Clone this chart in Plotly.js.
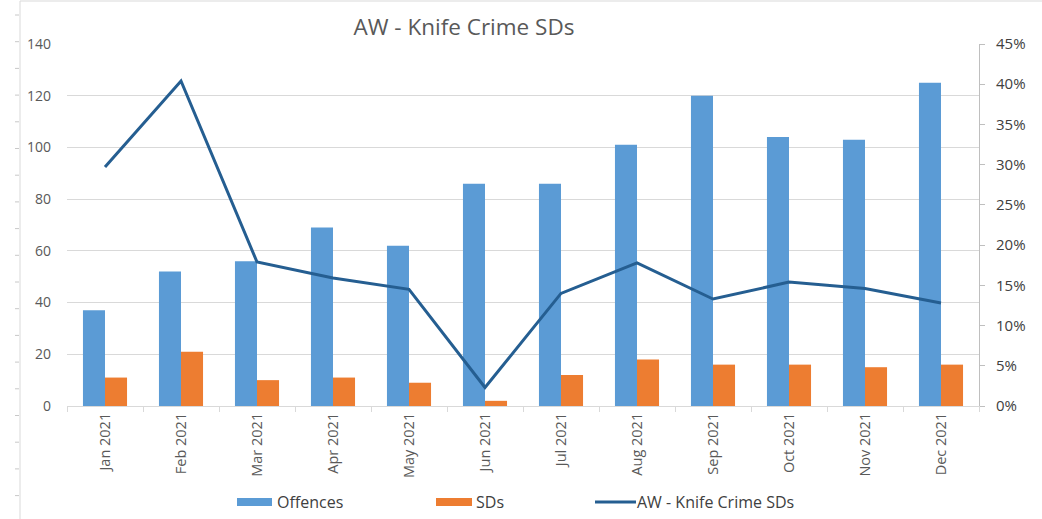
<!DOCTYPE html>
<html>
<head>
<meta charset="utf-8">
<script src="https://cdn.plot.ly/plotly-3.0.1.min.js"></script>
<style>html,body{margin:0;padding:0;background:#fff;}#chart{width:1042px;height:519px;}</style>
</head>
<body>
<div id="chart"></div>
<script>
const months = ["Jan 2021","Feb 2021","Mar 2021","Apr 2021","May 2021","Jun 2021","Jul 2021","Aug 2021","Sep 2021","Oct 2021","Nov 2021","Dec 2021"];
const offences = [37, 52, 56, 69, 62, 86, 86, 101, 120, 104, 103, 125];
const sds = [11, 21, 10, 11, 9, 2, 12, 18, 16, 16, 15, 16];
const sdRate = [0.297, 0.404, 0.179, 0.159, 0.145, 0.023, 0.140, 0.178, 0.133, 0.154, 0.146, 0.128];
const seriesNames = ["Offences", "SDs", "AW - Knife Crime SDs"];

const W = 1042, H = 519, L = 67, R = 63, T = 44, B = 113;
const pw = W - L - R, ph = H - T - B;
const px = x => (x - L) / pw;
const py = y => (H - B - y) / ph;

const font = "'Open Sans', 'Liberation Sans', sans-serif";
const blue = "#5B9BD5", orange = "#ED7D31", navy = "#255E91";

const shapes = [
  {type:"line", xref:"paper", yref:"paper", x0:px(20), x1:px(20), y0:py(1), y1:py(519), line:{color:"#D9D9D9", width:1}},
  {type:"line", xref:"paper", yref:"paper", x0:px(20), x1:px(1042), y0:py(1), y1:py(1), line:{color:"#D9D9D9", width:1}},
  // custom legend symbols
  {type:"rect", xref:"paper", yref:"paper", x0:px(237), x1:px(272), y0:py(498), y1:py(506), fillcolor:blue, line:{width:0}},
  {type:"rect", xref:"paper", yref:"paper", x0:px(436), x1:px(472), y0:py(498), y1:py(506), fillcolor:orange, line:{width:0}},
  {type:"line", xref:"paper", yref:"paper", x0:px(595), x1:px(636), y0:py(502), y1:py(502), line:{color:navy, width:3}}
];
for (let k = 0; k < 19; k++) {
  const y = 15 + 26.7 * k;
  shapes.push({type:"line", xref:"paper", yref:"paper", x0:px(15), x1:px(19), y0:py(y), y1:py(y), line:{color:"#C8C8C8", width:1}});
}
const legX = [277, 476, 637];
const annotations = seriesNames.map((n, i) => ({
  text:n, xref:"paper", yref:"paper", x:px(legX[i]), y:py(502), xanchor:"left", yanchor:"middle",
  showarrow:false, font:{size:16, color:"#404040", family:font}, xshift:-2
}));

const data = [
  {type:"bar", name:seriesNames[0], x:months, y:offences, marker:{color:blue}},
  {type:"bar", name:seriesNames[1], x:months, y:sds, marker:{color:orange}},
  {type:"scatter", mode:"lines", name:seriesNames[2], x:months, y:sdRate, yaxis:"y2", line:{color:navy, width:3}}
];

const layout = {
  width: W, height: H,
  margin: {l:L, r:R, t:T, b:B},
  paper_bgcolor:"#fff", plot_bgcolor:"#fff",
  font: {family: font, color:"#595959", size:13},
  title: {text:"AW - Knife Crime SDs", x:464/W, xanchor:"center", y:1-27/H, yanchor:"middle", font:{size:22.5, color:"#595959", family:font}},
  barmode:"group", bargap:0.42, bargroupgap:0,
  showlegend:false,
  xaxis: {type:"category", automargin:false, tickangle:-90, tickson:"boundaries", ticks:"outside", ticklen:5, tickcolor:"#D9D9D9",
          showline:true, linecolor:"#D9D9D9", linewidth:1, showgrid:false, tickfont:{size:14.5, color:"#595959"}},
  yaxis: {automargin:false, range:[0,140], dtick:20, showgrid:true, gridcolor:"#D9D9D9", zeroline:false, showline:false, ticks:"",
          tickfont:{size:14, color:"#595959"}, ticklabelstandoff:15},
  yaxis2: {automargin:false, overlaying:"y", side:"right", range:[0,0.45], dtick:0.05, tickformat:".0%", showgrid:false, zeroline:false,
           showline:true, linecolor:"#BFBFBF", ticks:"outside", ticklen:5, tickcolor:"#BFBFBF",
           tickfont:{size:15, color:"#404040"}, ticklabelstandoff:8},
  shapes: shapes,
  annotations: annotations
};
Plotly.newPlot("chart", data, layout, {displayModeBar:false, staticPlot:true});
</script>
</body>
</html>
